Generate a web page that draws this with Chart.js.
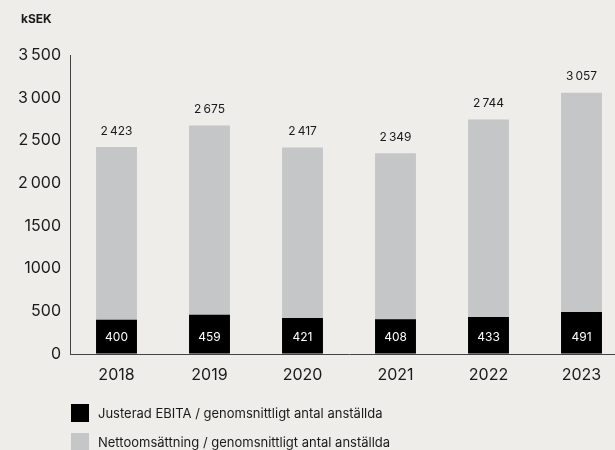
<!DOCTYPE html>
<html>
<head>
<meta charset="utf-8">
<script src="https://cdn.jsdelivr.net/npm/chart.js@4"></script>
<style>
  html, body { margin: 0; padding: 0; background: #eeede9; overflow: hidden; width: 615px; height: 450px; }
  #wrap { position: relative; width: 628px; height: 450px; }
  #unit { position: absolute; left: 21px; top: 11px; font: bold 12px Inter, sans-serif; color: #1a1a1a; }
  .leg { position: absolute; left: 71px; font: 13px Inter, sans-serif; color: #1a1a1a; display: flex; align-items: center; }
  .leg span.box { display: inline-block; width: 18px; height: 18px; margin-right: 9px; }
</style>
</head>
<body>
<div id="wrap">
  <canvas id="chart"></canvas>
  <div id="unit">kSEK</div>
  <div class="leg" style="top:404px"><span class="box" style="background:#000"></span>Justerad EBITA / genomsnittligt antal anställda</div>
  <div class="leg" style="top:433px"><span class="box" style="background:#c5c6c8"></span>Nettoomsättning / genomsnittligt antal anställda</div>
</div>
<script>
// data
const years = ['2018', '2019', '2020', '2021', '2022', '2023'];
const ebitaPerEmployee = [400, 459, 421, 408, 433, 491];
const salesPerEmployee = [2423, 2675, 2417, 2349, 2744, 3057];
const yTickValues = [0, 500, 1000, 1500, 2000, 2500, 3000, 3500];
const yTickLabels = ['0', '500', '1000', '1500', '2\u2009000', '2\u2009500', '3\u2009000', '3\u2009500'];

const fmt = v => v >= 1000 ? Math.floor(v / 1000) + '\u2009' + String(v % 1000).padStart(3, '0') : String(v);

// value labels: above the grey bars, inside the black ones
const valueLabels = {
  id: 'valueLabels',
  afterDatasetsDraw(chart) {
    const ctx = chart.ctx;
    const base = chart.scales.y.getPixelForValue(0);
    ctx.save();
    ctx.textAlign = 'center';
    ctx.textBaseline = 'middle';
    ctx.font = '12px Inter, sans-serif';
    chart.getDatasetMeta(1).data.forEach((bar, i) => {
      ctx.fillStyle = '#1a1a1a';
      ctx.fillText(fmt(salesPerEmployee[i]), bar.x, bar.y - 16);
    });
    chart.getDatasetMeta(0).data.forEach((bar, i) => {
      ctx.fillStyle = '#ffffff';
      ctx.fillText(fmt(ebitaPerEmployee[i]), bar.x, base - 17);
    });
    ctx.restore();
  }
};

new Chart(document.getElementById('chart'), {
  type: 'bar',
  data: {
    labels: years,
    datasets: [
      {
        label: 'Justerad EBITA / genomsnittligt antal anställda',
        data: ebitaPerEmployee,
        backgroundColor: '#000000'
      },
      {
        label: 'Nettoomsättning / genomsnittligt antal anställda',
        data: salesPerEmployee,
        backgroundColor: '#c5c6c8'
      }
    ]
  },
  options: {
    responsive: true,
    maintainAspectRatio: false,
    animation: false,
    grouped: false,
    barPercentage: 0.44,
    categoryPercentage: 1,
    layout: { padding: { top: 55, bottom: 56, left: 0, right: 0 } },
    plugins: {
      legend: { display: false },
      tooltip: { enabled: false }
    },
    scales: {
      x: {
        grid: { display: true, drawOnChartArea: false, drawTicks: false },
        border: { display: true, color: '#444', width: 1 },
        ticks: { color: '#1a1a1a', font: { family: 'Inter, sans-serif', size: 16 }, padding: 12 },
        afterFit: s => { s.height = 40; }
      },
      y: {
        min: 0,
        max: 3500,
        afterBuildTicks: s => { s.ticks = yTickValues.map(v => ({ value: v })); },
        grid: { display: true, drawOnChartArea: false, drawTicks: false },
        border: { display: true, color: '#444', width: 1 },
        ticks: {
          color: '#1a1a1a',
          font: { family: 'Inter, sans-serif', size: 16 },
          padding: 9,
          callback: v => yTickLabels[yTickValues.indexOf(v)]
        },
        afterFit: s => { s.width = 70; }
      }
    }
  },
  plugins: [valueLabels]
});
</script>
</body>
</html>
